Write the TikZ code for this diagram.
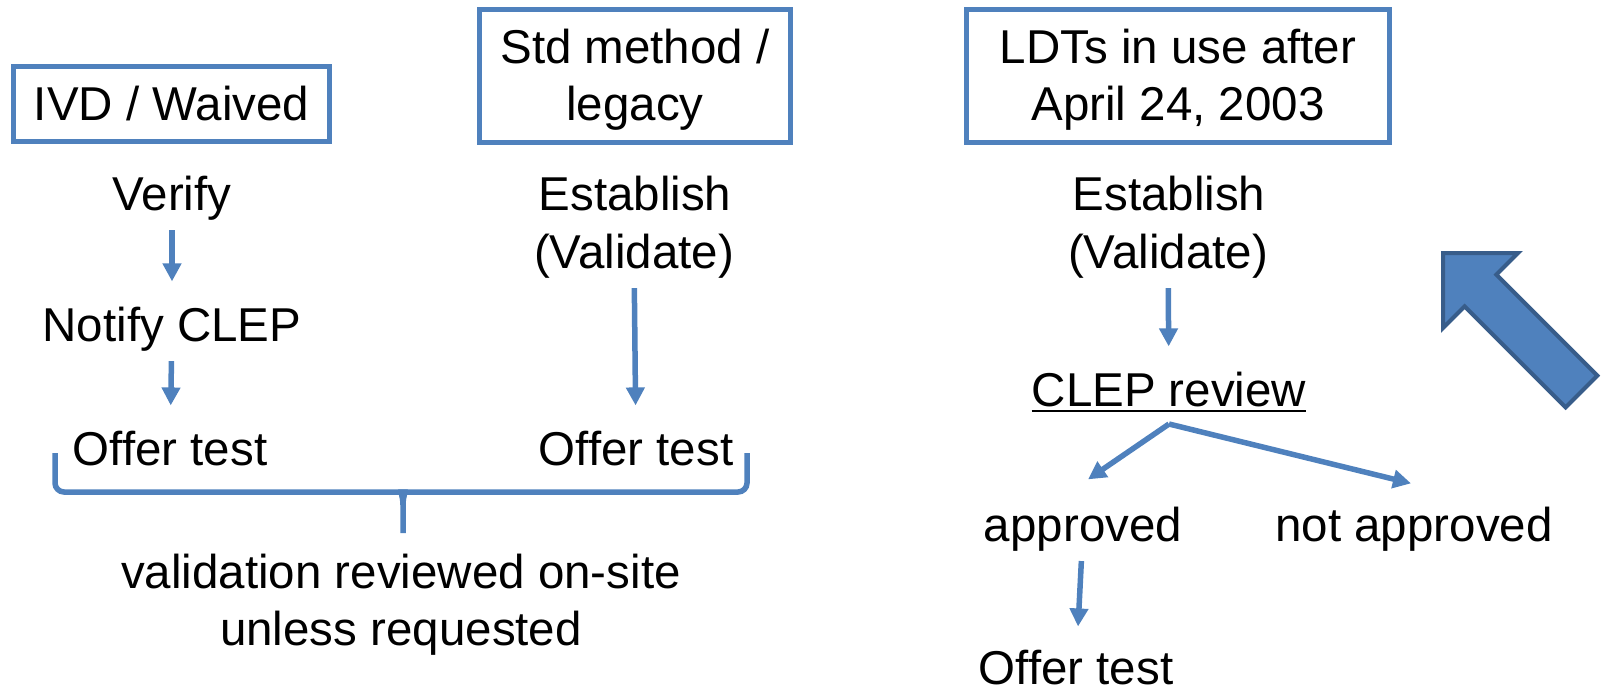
\documentclass[tikz,border=0pt]{standalone}
\usepackage{fontspec}
\setmainfont{Liberation Sans}
\usetikzlibrary{arrows.meta}
\definecolor{lineblue}{HTML}{4F81BD}
\definecolor{edgeblue}{HTML}{385D8A}
\tikzset{
  box/.style={draw=lineblue, line width=5pt, align=center, inner sep=0pt},
  lbl/.style={inner sep=0pt, anchor=base},
  arr/.style={draw=lineblue, line width=5.5pt, -{Triangle[width=18pt,length=18pt]},
    shorten <=10pt, shorten >=25pt},
  curly/.style={draw=lineblue, line width=5.5pt},
}
\begin{document}
\begin{tikzpicture}[x=1pt, y=-1pt, font=\fontsize{47.5}{57}\selectfont]
  \useasboundingbox (0,0) rectangle (1612,690);
  % headings
  \node[box, minimum width=316pt, minimum height=75pt] (ivd) at (171.5,104) {IVD / Waived};
  \node[box, minimum width=311pt, minimum height=133pt, text depth=2pt] (std) at (635,76) {Std method /\\legacy};
  \node[box, minimum width=423pt, minimum height=133pt, text depth=2pt] (ldt) at (1178,76) {LDTs in use after\\April 24, 2003};
  % left column
  \node[lbl] (verify) at (172,210) {Verify};
  \node[lbl] (notify) at (172,341) {Notify CLEP};
  \node[lbl] (offerA) at (170,465) {Offer test};
  % middle column
  \node[lbl] (estB) at (635,210) {Establish};
  \node[lbl] (valB) at (634,268) {(Validate)};
  \node[lbl] (offerB) at (636,465) {Offer test};
  % right column
  \node[lbl] (estC) at (1169,210) {Establish};
  \node[lbl] (valC) at (1168,268) {(Validate)};
  \node[lbl] (clep) at (1169,406) {CLEP review};
  \draw[line width=2.5pt] ([yshift=-5pt]clep.base west) -- ([yshift=-5pt]clep.base east);
  \coordinate (split) at (1169,424);
  \node[lbl] (appr) at (1083,541) {approved};
  \node[lbl] (notappr) at (1414,541) {not approved};
  \node[lbl] (offerC) at (1076,684) {Offer test};
  % note under the brace
  \node[lbl] (note1) at (401,588) {validation reviewed on-site};
  \node[lbl] (note2) at (401,645) {unless requested};
  \draw[arr] (verify) -- (notify);
  \draw[arr] (notify) -- (offerA);
  \draw[arr] (valB) -- (offerB);
  \draw[arr] (valC) -- (clep);
  \draw[arr, shorten <=0pt, shorten >=0pt] (split) -- ([shift={(5,-27)}]appr.north);
  \draw[arr, shorten <=0pt, shorten >=0pt] (split) -- ([shift={(-3,-23)}]notappr.north);
  \draw[arr, shorten >=23pt] (appr) -- (offerC);
  % brace
  \coordinate (braceL) at (55,453);
  \coordinate (braceR) at (747,453);
  \coordinate (braceTip) at (403,533);
  \draw[curly, rounded corners=9pt] (braceL) |- (393,492) [sharp corners]
    .. controls (400,492) and (403,496) .. (403,505) -- (braceTip);
  \draw[curly, rounded corners=9pt] (braceR) |- (413,492) [sharp corners]
    .. controls (406,492) and (403,496) .. (403,505);
  % block arrow
  \filldraw[fill=lineblue, draw=edgeblue, line width=4pt] (1443,253) -- (1518,253)
    -- (1496.4,274.6) -- (1597.4,375.6) -- (1565.6,407.4) -- (1464.6,306.4)
    -- (1443,328) -- cycle;
\end{tikzpicture}
\end{document}
